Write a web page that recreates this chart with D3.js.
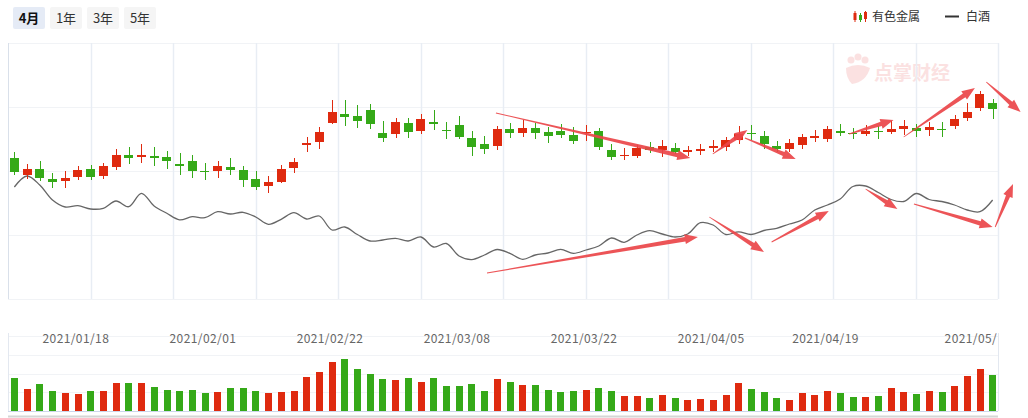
<!DOCTYPE html>
<meta charset="utf-8">
<head>
<script src="https://cdnjs.cloudflare.com/ajax/libs/d3/7.8.5/d3.min.js"></script>
<style>
body { margin:0; background:#fff; }
svg { display:block; font-family:"Microsoft YaHei","Noto Sans CJK SC",sans-serif; }
</style>
</head>
<body>
<div id="chart"></div>
<script>

// trading days shown in the window
var dates = [
  '2021/01/11','2021/01/12','2021/01/13','2021/01/14','2021/01/15',
  '2021/01/18','2021/01/19','2021/01/20','2021/01/21','2021/01/22',
  '2021/01/25','2021/01/26','2021/01/27','2021/01/28','2021/01/29',
  '2021/02/01','2021/02/02','2021/02/03','2021/02/04','2021/02/05',
  '2021/02/08','2021/02/09','2021/02/10','2021/02/18','2021/02/19',
  '2021/02/22','2021/02/23','2021/02/24','2021/02/25','2021/02/26',
  '2021/03/01','2021/03/02','2021/03/03','2021/03/04','2021/03/05',
  '2021/03/08','2021/03/09','2021/03/10','2021/03/11','2021/03/12',
  '2021/03/15','2021/03/16','2021/03/17','2021/03/18','2021/03/19',
  '2021/03/22','2021/03/23','2021/03/24','2021/03/25','2021/03/26',
  '2021/03/29','2021/03/30','2021/03/31','2021/04/01','2021/04/02',
  '2021/04/06','2021/04/07','2021/04/08','2021/04/09',
  '2021/04/12','2021/04/13','2021/04/14','2021/04/15','2021/04/16',
  '2021/04/19','2021/04/20','2021/04/21','2021/04/22','2021/04/23',
  '2021/04/26','2021/04/27','2021/04/28','2021/04/29','2021/04/30',
  '2021/05/06','2021/05/07','2021/05/10','2021/05/11'
];

// 有色金属 (candles)
var open  = [5407,5243,5300,5200,5183,5223,5300,5233,5323,5440,5423,5430,5420,5350,5380,5283,5283,5320,5290,5200,
             5133,5170,5310,5537,5573,5760,5850,5830,5890,5660,5650,5760,5680,5770,5690,5740,5610,5550,5530,5700,
             5660,5710,5670,5680,5640,5657,5680,5490,5430,5430,5520,5490,5510,5470,5480,5510,5520,5590,5660,5630,
             5530,5500,5543,5610,5600,5680,5660,5650,5680,5670,5700,5710,5690,5700,5730,5810,5910,5960];
var close = [5273,5300,5213,5173,5210,5290,5223,5330,5440,5413,5440,5413,5383,5333,5283,5273,5330,5293,5193,5123,
             5170,5300,5370,5560,5670,5870,5820,5780,5750,5610,5770,5670,5800,5750,5680,5620,5520,5500,5700,5660,
             5710,5660,5630,5643,5580,5670,5520,5420,5440,5510,5490,5530,5470,5490,5500,5530,5590,5650,5647,5550,
             5497,5560,5620,5630,5700,5660,5647,5680,5670,5700,5730,5680,5720,5690,5800,5870,6050,5900];
var high  = [5470,5350,5380,5257,5280,5330,5340,5360,5500,5520,5550,5520,5480,5460,5440,5360,5380,5410,5330,5280,
             5230,5340,5410,5620,5720,5990,5990,5940,5950,5780,5810,5810,5850,5890,5770,5830,5680,5630,5730,5760,
             5790,5760,5720,5750,5720,5740,5710,5550,5510,5540,5570,5590,5560,5530,5550,5590,5620,5730,5740,5680,
             5580,5600,5650,5690,5730,5750,5710,5740,5730,5780,5790,5750,5770,5770,5840,5960,6080,6000];
var low   = [5240,5200,5183,5113,5113,5193,5193,5203,5293,5353,5363,5333,5303,5243,5213,5193,5213,5243,5123,5093,
             5063,5160,5260,5470,5500,5750,5730,5710,5700,5570,5610,5610,5650,5690,5600,5600,5430,5450,5490,5610,
             5620,5600,5560,5610,5550,5580,5490,5390,5390,5410,5460,5423,5450,5430,5440,5470,5480,5550,5590,5503,
             5473,5473,5500,5570,5570,5630,5600,5630,5600,5650,5640,5620,5630,5620,5700,5780,5880,5800];
var volume = [660,440,540,400,360,340,400,400,560,560,560,480,420,400,420,360,380,460,460,400,
              360,380,400,680,780,980,1040,840,740,640,620,660,580,660,500,500,540,400,640,580,
              520,520,420,380,400,420,460,400,300,300,260,320,260,220,240,220,320,560,440,380,
              260,220,360,320,400,360,280,280,300,460,380,340,400,380,500,700,840,720];

// 白酒 (line)
var baijiu = [31200,32300,31400,29900,29200,29330,29000,29070,29800,29230,30570,29300,28570,27920,28230,28130,28730,28500,28670,28200,
              27470,27970,28630,28000,28300,26900,27200,26450,25800,25900,26070,25800,26200,25200,25550,24300,23940,24400,24950,24570,
              23970,24400,24600,24970,24570,24900,25300,26100,25670,26400,26830,26500,26200,26500,27630,27400,26450,26720,26450,26850,
              27070,27500,27900,28900,29400,30000,31250,31300,30650,29950,29750,30550,29950,29750,29400,28900,28730,29900];

var tickLabels = ['2021/01/18','2021/02/01','2021/02/22','2021/03/08','2021/03/22','2021/04/05','2021/04/19','2021/05/10'];
var ranges = ['4月','1年','3年','5年'];
var seriesNames = ['有色金属','白酒'];

// hand drawn red arrows pasted on the picture: [fromIndex, fromPrice, toIndex, toPrice]
var arrows = [
  [37.9,5860,53.2,5410], [54.97,5450,57.7,5690], [57.5,5610,61.5,5400], [65.7,5650,69.2,5790],
  [70.0,5620,75.6,6110], [76.5,6170,79.2,5870], [37.2,4260,53.8,4620], [54.7,4820,59.0,4470],
  [59.6,4570,64.1,4880], [67.0,5100,69.5,4900], [70.8,4950,77.0,4720], [77.2,4720,78.6,5150]
];

var red = '#df2a0f', green = '#35a918';
var width = 1028, height = 418;
var left = 8, right = 998;
var n = dates.length;

var svg = d3.select('#chart').append('svg')
    .attr('width', width)
    .attr('height', height);

var x = d3.scaleBand().domain(dates).range([left, 999]);
var bw = x.bandwidth();
function cx(i) { return x(dates[i]) + bw / 2; }
var xi = d3.scaleLinear().domain([0, n - 1]).range([cx(0), cx(n - 1)]);

var y = d3.scaleLinear().domain([4000, 6560]).range([299, 43]);
var y2 = d3.scaleLinear().domain([20000, 45600]).range([299, 43]);
var yv = d3.scaleLinear().domain([0, 1500]).range([411, 336]);

function splits(scale, k) {
  var dm = scale.domain();
  return d3.range(k + 1).map(function(i){ return dm[0] + i * (dm[1] - dm[0]) / k; });
}

// ---- range buttons
var btn = svg.append('g').selectAll('g').data(ranges).enter().append('g')
    .attr('transform', function(d, i){ return 'translate(' + (13 + i * 37) + ',7)'; });
btn.append('rect').attr('width', 32).attr('height', 22).attr('rx', 2)
    .attr('fill', function(d, i){ return i == 0 ? '#e5ebf6' : '#f5f5f5'; });
btn.append('text').attr('x', 16).attr('y', 15.5).attr('text-anchor', 'middle')
    .style('font-size', '13px')
    .style('font-weight', function(d, i){ return i == 0 ? 'bold' : 'normal'; })
    .attr('fill', function(d, i){ return i == 0 ? '#111' : '#333'; })
    .text(function(d){ return d; });

// ---- legend
var lg = svg.append('g');
[[855, red, 11, 22, 13, 20], [860.5, green, 13, 22, 15, 20], [865.5, red, 11, 22, 12, 19]].forEach(function(c){
  lg.append('line').attr('x1', c[0]).attr('x2', c[0]).attr('y1', c[2]).attr('y2', c[3]).attr('stroke', c[1]).attr('stroke-width', 1);
  lg.append('rect').attr('x', c[0] - 1.5).attr('width', 3).attr('y', c[4]).attr('height', c[5] - c[4]).attr('fill', c[1]);
});
lg.append('text').attr('x', 872).attr('y', 21).style('font-size', '12px').attr('fill', '#333').text(seriesNames[0]);
lg.append('line').attr('x1', 945).attr('x2', 959).attr('y1', 16.5).attr('y2', 16.5).attr('stroke', '#333').attr('stroke-width', 2);
lg.append('text').attr('x', 966).attr('y', 21).style('font-size', '12px').attr('fill', '#333').text(seriesNames[1]);

// ---- watermark
var wm = svg.append('g').attr('opacity', 0.25).attr('fill', '#f08a8a');
wm.append('circle').attr('cx', 851).attr('cy', 60).attr('r', 3.5);
wm.append('circle').attr('cx', 858).attr('cy', 57).attr('r', 3.5);
wm.append('circle').attr('cx', 865).attr('cy', 60).attr('r', 3.5);
wm.append('path').attr('d', 'M846,68 Q858,62 870,68 Q866,82 852,84 Q846,78 846,68 Z');
wm.append('text').attr('x', 874).attr('y', 80).style('font-size', '19px').style('font-weight', 'bold').text('点掌财经');

// ---- upper grid
var grid = svg.append('g');
grid.selectAll('.hg').data(splits(y, 4)).enter().append('line')
    .attr('x1', left).attr('x2', right)
    .attr('y1', function(d){ return Math.round(y(d)) + 0.5; })
    .attr('y2', function(d){ return Math.round(y(d)) + 0.5; })
    .attr('stroke', '#f1f3f6');
grid.selectAll('.vg').data(d3.range(13)).enter().append('line')
    .attr('x1', function(d){ return Math.round(left + d * (right - left) / 12) + 0.5; })
    .attr('x2', function(d){ return Math.round(left + d * (right - left) / 12) + 0.5; })
    .attr('y1', 43).attr('y2', 299)
    .attr('stroke', function(d){ return d == 0 ? '#d9e0ea' : '#e8edf4'; })
    .attr('stroke-width', function(d){ return d == 0 ? 1 : 1.5; });

// ---- baijiu line
var line = d3.line()
    .x(function(d, i){ return cx(i); })
    .y(function(d){ return y2(d); })
    .curve(d3.curveCatmullRom.alpha(0.5));
svg.append('path').datum(baijiu)
    .attr('d', line)
    .attr('fill', 'none')
    .attr('stroke', '#666')
    .attr('stroke-width', 1.3);

// ---- candles
var candles = svg.append('g').attr('shape-rendering', 'crispEdges');
var idx = d3.range(n);
function col(i) { return close[i] >= open[i] ? red : green; }
candles.selectAll('.wick').data(idx).enter().append('line')
    .attr('x1', function(i){ return Math.round(cx(i)) + 0.5; })
    .attr('x2', function(i){ return Math.round(cx(i)) + 0.5; })
    .attr('y1', function(i){ return y(high[i]); })
    .attr('y2', function(i){ return y(low[i]); })
    .attr('stroke', col)
    .attr('stroke-width', 1.2);
var bodyW = bw * 0.7;
candles.selectAll('.body').data(idx).enter().append('rect')
    .attr('x', function(i){ return Math.round(cx(i) - bodyW / 2); })
    .attr('width', Math.round(bodyW))
    .attr('y', function(i){ return y(Math.max(open[i], close[i])); })
    .attr('height', function(i){ return Math.max(1.2, Math.abs(y(open[i]) - y(close[i]))); })
    .attr('fill', col);

// ---- volume panel
var vol = svg.append('g');
vol.selectAll('.vh').data(splits(yv, 4)).enter().append('line')
    .attr('x1', left).attr('x2', right)
    .attr('y1', function(d){ return Math.round(yv(d)) + 0.5; })
    .attr('y2', function(d){ return Math.round(yv(d)) + 0.5; })
    .attr('stroke', function(d){ return d == 0 ? '#ccd6eb' : '#f1f3f6'; });
vol.selectAll('.vv').data([left, right]).enter().append('line')
    .attr('x1', function(d){ return d + 0.5; }).attr('x2', function(d){ return d + 0.5; })
    .attr('y1', 333).attr('y2', 411)
    .attr('stroke', '#e3e8f0');
var volW = bw * 0.52;
vol.selectAll('.vb').data(idx).enter().append('rect')
    .attr('shape-rendering', 'crispEdges')
    .attr('x', function(i){ return Math.round(cx(i) - volW / 2); })
    .attr('width', Math.round(volW))
    .attr('y', function(i){ return yv(volume[i]); })
    .attr('height', function(i){ return yv(0) - yv(volume[i]); })
    .attr('fill', col);
vol.append('line').attr('x1', left).attr('x2', right).attr('y1', 416.5).attr('y2', 416.5)
    .attr('stroke', '#d6d6d6').attr('stroke-width', 2);

// ---- date labels
svg.append('clipPath').attr('id', 'lblclip').append('rect')
    .attr('x', 0).attr('y', 320).attr('width', 997).attr('height', 40);
svg.append('g').attr('clip-path', 'url(#lblclip)')
  .selectAll('text').data(tickLabels).enter().append('text')
    .attr('x', function(d){
      var k = dates.findIndex(function(t){ return t >= d; });
      return cx(k) - 2;
    })
    .attr('y', 343)
    .attr('text-anchor', 'middle')
    .style('font-size', '12px')
    .style('letter-spacing', '0.4px')
    .attr('fill', '#666')
    .text(function(d){ return d; });

// ---- arrows
function arrowPath(a) {
  var x1 = xi(a[0]), y1 = y(a[1]), x2 = xi(a[2]), y2p = y(a[3]);
  var dx = x2 - x1, dy = y2p - y1, L = Math.sqrt(dx * dx + dy * dy);
  var ux = dx / L, uy = dy / L, nx = -uy, ny = ux;
  var h = Math.min(13, L * 0.4), hw = 5, sw = 2.2, tw = 0.4;
  var bx = x2 - ux * h, by = y2p - uy * h;
  var p = [
    [x1 + nx * tw, y1 + ny * tw], [bx + nx * sw, by + ny * sw], [bx + nx * hw, by + ny * hw],
    [x2, y2p], [bx - nx * hw, by - ny * hw], [bx - nx * sw, by - ny * sw], [x1 - nx * tw, y1 - ny * tw]
  ];
  return 'M' + p.map(function(q){ return q[0].toFixed(1) + ',' + q[1].toFixed(1); }).join('L') + 'Z';
}
svg.append('g').selectAll('path').data(arrows).enter().append('path')
    .attr('d', arrowPath)
    .attr('fill', '#ea4549')
    .attr('opacity', 0.92);

</script>
</body>
